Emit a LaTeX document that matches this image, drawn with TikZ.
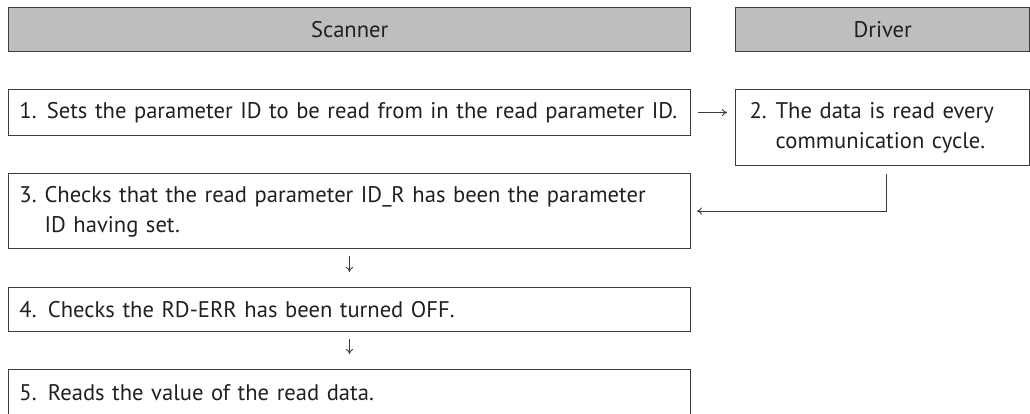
\documentclass[tikz,border=0pt]{standalone}
\usepackage{fontspec}
\setmainfont{PT Sans}
\usetikzlibrary{arrows.meta}
\definecolor{hdrfill}{HTML}{BCBEC0}
\definecolor{edge}{HTML}{3C3C3C}
\definecolor{ink}{HTML}{231F20}
\tikzset{
  hdr/.style={draw=edge, line width=1.4pt, fill=hdrfill, anchor=north west, inner sep=0pt, text=ink, font=\fontsize{22.6}{26}\selectfont},
  stepbox/.style={draw=edge, line width=1pt, anchor=north west, inner sep=0pt, text=ink, font=\fontsize{22.6}{30}\selectfont, align=left},
  arr/.style={draw=edge, line width=0.9pt, -{To[length=5pt,width=7pt]}},
}
\begin{document}
\begin{tikzpicture}[x=1pt,y=-1pt]
\useasboundingbox (0,0) rectangle (1030,414);
\clip (0,0) rectangle (1030,414);
\node[hdr, minimum width=682pt, minimum height=44pt] (scan) at (8,7) {Scanner};
\node[hdr, minimum width=294pt, minimum height=44pt] (drv) at (735,7) {Driver};

\node[stepbox, minimum width=682pt, minimum height=46pt, text width=660pt] (b1) at (8,89)
  {1.\kern0.45em Sets the parameter ID to be read from in the read parameter ID.};
\node[stepbox, minimum width=294pt, minimum height=76pt, text width=266pt] (b2) at (735,89)
  {\begin{tabular}{@{}l@{}l@{}}2.\kern0.4em&The data is read every\\&communication cycle.\end{tabular}};
\node[stepbox, minimum width=682pt, minimum height=75pt, text width=660pt] (b3) at (8,173)
  {\begin{tabular}{@{}l@{}l@{}}3.\kern0.35em&Checks that the read parameter ID\_R has been the parameter\\&ID having set.\end{tabular}};
\node[stepbox, minimum width=682pt, minimum height=44pt, text width=660pt] (b4) at (8,287)
  {4. Checks the RD-ERR has been turned OFF.};
\node[stepbox, minimum width=682pt, minimum height=46pt, text width=660pt] (b5) at (8,369)
  {5. Reads the value of the read data.};

\draw[arr] ([xshift=7pt]b1.east) -- ([xshift=-8pt]b2.west |- b1.east);
\draw[arr] ([xshift=4pt,yshift=-8pt]b2.south) |- ([xshift=6pt]b3.east);
\draw[arr] ([yshift=-7pt]b3.south) -- ([yshift=15pt]b4.north);
\draw[arr] ([yshift=-7pt]b4.south) -- ([yshift=15pt]b5.north);
\end{tikzpicture}
\end{document}
